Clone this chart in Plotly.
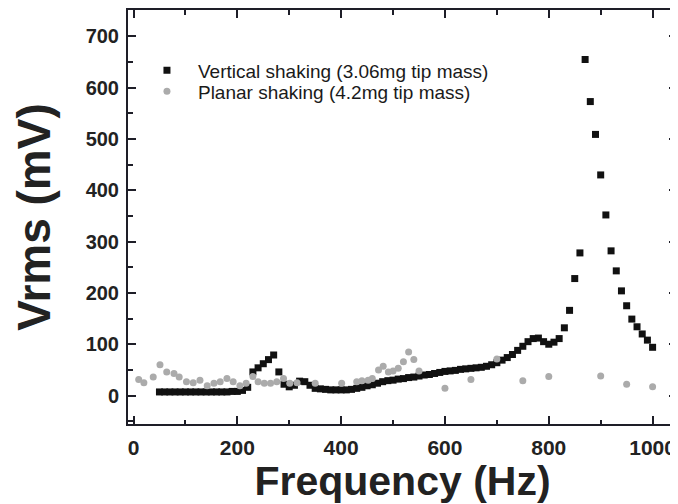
import plotly.graph_objects as go

# Vertical shaking (3.06 mg tip mass) - black squares
vert_freq = [50, 60, 70, 80, 90, 100, 110, 120, 130, 140, 150, 160, 170, 180, 190, 200,
             210, 220, 230, 240, 250, 260, 270, 280, 290, 300, 310, 320, 330, 340, 350,
             360, 370, 380, 390, 400, 410, 420, 430, 440, 450, 460, 470, 480, 490, 500,
             510, 520, 530, 540, 550, 560, 570, 580, 590, 600, 610, 620, 630, 640, 650,
             660, 670, 680, 690, 700, 710, 720, 730, 740, 750, 760, 770, 780, 790, 800,
             810, 820, 830, 840, 850, 860, 870, 880, 890, 900, 910, 920, 930, 940, 950,
             960, 970, 980, 990, 1000]
vert_vrms = [7, 7, 7, 7, 7, 7, 7, 7, 7, 7, 7, 7, 7, 7, 8, 8,
             10, 16, 46, 54, 62, 70, 79, 46, 22, 17, 20, 28, 27, 20, 14,
             13, 12, 11, 11, 11, 11, 12, 14, 16, 19, 21, 24, 27, 29, 30,
             32, 33, 35, 36, 38, 40, 41, 43, 45, 47, 48, 49, 51, 52, 53,
             54, 55, 57, 60, 64, 69, 74, 80, 88, 96, 105, 111, 112, 105, 100,
             104, 111, 132, 166, 228, 278, 655, 573, 509, 430, 352, 282, 243, 204, 175,
             149, 134, 120, 108, 94]

# Planar shaking (4.2 mg tip mass) - grey circles
plan_freq = [10, 20, 38, 51, 64, 78, 88, 102, 115, 128, 142, 155, 167, 180, 192, 205,
             217, 230, 240, 252, 264, 276, 289, 301, 315, 350, 401, 430, 440, 452, 460,
             472, 481, 491, 500, 510, 520, 530, 540, 550, 600, 650, 700, 750, 800, 900,
             950, 1000]
plan_vrms = [31, 25, 36, 60, 46, 43, 36, 27, 25, 30, 19, 24, 27, 33, 27, 19,
             24, 37, 27, 24, 24, 27, 33, 24, 25, 24, 24, 27, 29, 30, 33,
             50, 57, 46, 48, 53, 66, 85, 70, 48, 14, 31, 71, 29, 37, 38,
             22, 17]

x_ticks = [0, 200, 400, 600, 800, 1000]
y_ticks = [0, 100, 200, 300, 400, 500, 600, 700]

FONT = "Liberation Sans, Arial, sans-serif"
AXC = "#1e1e28"
TXT = "#222222"

fig = go.Figure()
fig.add_trace(go.Scatter(
    x=vert_freq, y=vert_vrms, mode="markers",
    name="Vertical shaking (3.06mg tip mass)", legend="legend",
    marker=dict(symbol="square", size=7, color="#111111", line=dict(width=0)),
))
fig.add_trace(go.Scatter(
    x=plan_freq, y=plan_vrms, mode="markers",
    name="Planar shaking (4.2mg tip mass)", legend="legend2",
    marker=dict(symbol="circle", size=7, color="#ababab", line=dict(width=0)),
))

axis_common = dict(
    showline=True, linecolor=AXC, linewidth=2, mirror="ticks",
    ticks="inside", ticklen=8, tickwidth=2, tickcolor=AXC,
    showgrid=False, zeroline=False, automargin=False,
)

fig.update_xaxes(
    range=[-10.6, 1047], tickvals=x_ticks,
    tickfont=dict(family=FONT, size=21, color=TXT, weight="bold"),
    minor=dict(dtick=100, tick0=0, ticks="inside", ticklen=4.5, tickwidth=2, tickcolor=AXC),
    title=dict(text="Frequency (Hz)", font=dict(family=FONT, size=41, color=TXT, weight="bold"), standoff=14),
    ticklabelstandoff=4,
    **axis_common,
)
fig.update_yaxes(
    range=[-55.5, 751.5], tickvals=y_ticks,
    tickfont=dict(family=FONT, size=20, color=TXT, weight="bold"),
    minor=dict(dtick=50, tick0=0, ticks="inside", ticklen=4.5, tickwidth=2, tickcolor=AXC),
    title=dict(text="Vrms (mV)", font=dict(family=FONT, size=46, color=TXT, weight="bold"), standoff=22),
    ticklabelstandoff=3,
    **axis_common,
)

leg_common = dict(
    xanchor="left", yanchor="top",
    bgcolor="rgba(0,0,0,0)", borderwidth=0,
    font=dict(family=FONT, size=19, color="#1a1a1a"),
    itemwidth=52,
)
# page body has an 8px default margin, so the figure is 8px smaller than the window
fig.update_layout(
    width=670, height=496,
    margin=dict(l=120, r=1, t=2, b=80, pad=0),
    paper_bgcolor="white", plot_bgcolor="white",
    showlegend=True,
    legend=dict(x=0.0145, y=0.90, **leg_common),
    legend2=dict(x=0.0145, y=0.849, **leg_common),
)

fig.write_html("out.html")
